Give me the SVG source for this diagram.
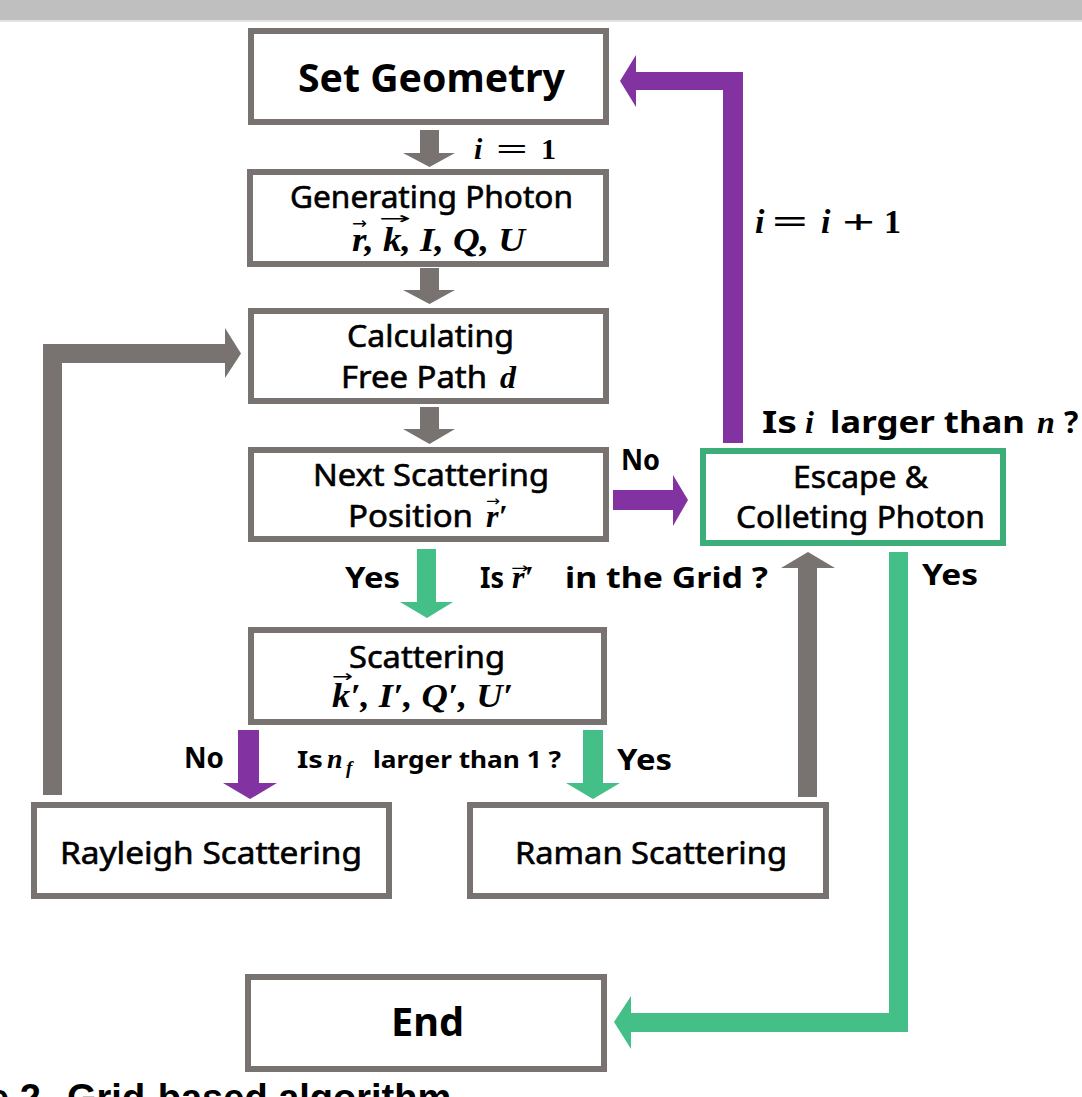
<svg xmlns="http://www.w3.org/2000/svg" width="1082" height="1097" viewBox="0 0 1082 1097">
<style>
.box{fill:#fff;stroke:#787371;stroke-width:6}
.gbox{fill:#fff;stroke:#3dae79;stroke-width:6}
.t{font-family:"Noto Sans","Open Sans",sans-serif;font-size:31px;fill:#000;stroke:#000;stroke-width:0.6}
.tb{font-family:"Noto Sans","Open Sans",sans-serif;font-size:40px;font-weight:700;fill:#000}
.m{font-family:"Liberation Serif","DejaVu Serif",serif;font-weight:700;font-style:italic;fill:#000}
.mu{font-family:"Liberation Serif","DejaVu Serif",serif;font-weight:700;fill:#000}
.ar{font-family:"DejaVu Sans",sans-serif;fill:#000}
.lb{font-family:"Noto Sans","Open Sans",sans-serif;font-size:28px;font-weight:700;fill:#000}
.q{font-family:"Noto Sans","Open Sans",sans-serif;font-weight:700;fill:#000}
.gray{fill:#787371}
.purple{fill:#8332a1}
.green{fill:#43bf87}
</style>
<rect x="0" y="0" width="1082" height="20" fill="#bfbfbf"/>
<rect x="0" y="20" width="1082" height="2" fill="#e3e3e3"/>

<g id="connectors">
<polygon class="gray" points="420,130 439,130 439,153 455,153 429.5,167 403,153 420,153"/>
<polygon class="gray" points="420,268 439,268 439,290 455,290 429.5,304 403,290 420,290"/>
<polygon class="gray" points="420,407 439,407 439,429 455,429 429.5,444 403,429 420,429"/>
<polygon class="green" points="417,549 436,549 436,602 453,602 427,618 400,602 417,602"/>
<polygon class="purple" points="238,730 259,730 259,783 277,783 250,799 223,783 238,783"/>
<polygon class="green" points="583,730 603,730 603,783 620,783 593,799 566,783 583,783"/>
<polygon class="gray" points="43,795 43,344 225,344 225,328 241,353.5 225,378 225,363 62,363 62,795"/>
<polygon class="gray" points="798,797 798,568 781,568 808,552 835,568 817,568 817,797"/>
<polygon class="purple" points="613,490 673,490 673,475 688,500 673,526 673,510 613,510"/>
<polygon class="purple" points="723,443 723,90 636,90 636,107 620,81 636,55 636,72 743,72 743,443"/>
<polygon class="green" points="889,552 908,552 908,1032 631,1032 631,1049 614,1022 631,996 631,1013 889,1013"/>
</g>

<g id="set-geometry">
<rect class="box" x="251" y="31" width="355" height="91"/>
<text class="tb" x="298" y="92" textLength="267" lengthAdjust="spacingAndGlyphs">Set Geometry</text>
</g>

<g id="generating-photon">
<rect class="box" x="250" y="172" width="356" height="92"/>
<text class="t" x="290" y="208" textLength="283" lengthAdjust="spacingAndGlyphs">Generating Photon</text>
<text class="m" x="352" y="251" font-size="34" textLength="173" lengthAdjust="spacingAndGlyphs">r, k, I, Q, U</text>
<text class="ar" x="352" y="229" font-size="17" textLength="15" lengthAdjust="spacingAndGlyphs">→</text>
<text class="ar" x="379" y="224" font-size="17" textLength="32" lengthAdjust="spacingAndGlyphs">→</text>
</g>

<g id="calculating">
<rect class="box" x="251" y="311" width="355" height="90"/>
<text class="t" x="347" y="347" textLength="167" lengthAdjust="spacingAndGlyphs">Calculating</text>
<text class="t" x="341" y="388" textLength="146" lengthAdjust="spacingAndGlyphs">Free Path</text>
<text class="m" x="500" y="388" font-size="32">d</text>
</g>

<g id="next-scattering">
<rect class="box" x="251" y="450" width="355" height="89"/>
<text class="t" x="313" y="486" textLength="236" lengthAdjust="spacingAndGlyphs">Next Scattering</text>
<text class="t" x="348" y="527" textLength="125" lengthAdjust="spacingAndGlyphs">Position</text>
<text class="m" x="486" y="527" font-size="32">r′</text>
<text class="ar" x="486" y="506" font-size="15" textLength="14" lengthAdjust="spacingAndGlyphs">→</text>
</g>

<g id="escape">
<rect class="gbox" x="703" y="451" width="300" height="92"/>
<text class="t" x="793" y="488" textLength="135" lengthAdjust="spacingAndGlyphs">Escape &amp;</text>
<text class="t" x="736" y="528" textLength="249" lengthAdjust="spacingAndGlyphs">Colleting Photon</text>
</g>

<g id="scattering">
<rect class="box" x="251" y="630" width="353" height="92"/>
<text class="t" x="349" y="668" textLength="156" lengthAdjust="spacingAndGlyphs">Scattering</text>
<text class="m" x="332" y="707" font-size="34" textLength="181" lengthAdjust="spacingAndGlyphs">k′, I′, Q′, U′</text>
<text class="ar" x="332" y="682" font-size="17" textLength="21" lengthAdjust="spacingAndGlyphs">→</text>
</g>

<g id="rayleigh">
<rect class="box" x="34" y="805" width="355" height="91"/>
<text class="t" x="60" y="864" textLength="302" lengthAdjust="spacingAndGlyphs">Rayleigh Scattering</text>
</g>

<g id="raman">
<rect class="box" x="470" y="805" width="356" height="91"/>
<text class="t" x="515" y="864" textLength="272" lengthAdjust="spacingAndGlyphs">Raman Scattering</text>
</g>

<g id="end">
<rect class="box" x="248" y="977" width="356" height="92"/>
<text class="tb" x="391" y="1036" textLength="73" lengthAdjust="spacingAndGlyphs">End</text>
</g>

<g id="labels">
<text class="m" x="474" y="159" font-size="30">i</text>
<text class="mu" x="496" y="159" font-size="30" textLength="32" lengthAdjust="spacingAndGlyphs">=</text>
<text class="mu" x="541" y="159" font-size="30">1</text>

<text class="m" x="755" y="233" font-size="34">i</text>
<text class="mu" x="772" y="233" font-size="34" textLength="36" lengthAdjust="spacingAndGlyphs">=</text>
<text class="m" x="821" y="233" font-size="34">i</text>
<text class="mu" x="842" y="233" font-size="34" textLength="33" lengthAdjust="spacingAndGlyphs">+</text>
<text class="mu" x="884" y="233" font-size="34">1</text>

<text class="q" x="762" y="433" font-size="30" textLength="35" lengthAdjust="spacingAndGlyphs">Is</text>
<text class="m" x="805" y="433" font-size="32">i</text>
<text class="q" x="830" y="433" font-size="30" textLength="195" lengthAdjust="spacingAndGlyphs">larger than</text>
<text class="m" x="1037" y="433" font-size="32">n</text>
<text class="q" x="1064" y="433" font-size="30">?</text>

<text class="lb" x="621" y="470" textLength="39" lengthAdjust="spacingAndGlyphs">No</text>
<text class="lb" x="345" y="588" textLength="55" lengthAdjust="spacingAndGlyphs">Yes</text>

<text class="q" x="480" y="588" font-size="28" textLength="24" lengthAdjust="spacingAndGlyphs">Is</text>
<text class="m" x="512" y="588" font-size="32">r′</text>
<text class="ar" x="511" y="573" font-size="15" textLength="18" lengthAdjust="spacingAndGlyphs">→</text>
<text class="q" x="565" y="588" font-size="28" textLength="203" lengthAdjust="spacingAndGlyphs">in the Grid ?</text>

<text class="lb" x="922" y="585" textLength="56" lengthAdjust="spacingAndGlyphs">Yes</text>

<text class="lb" x="184" y="768" textLength="40" lengthAdjust="spacingAndGlyphs">No</text>
<text class="q" x="297" y="768" font-size="23" textLength="26" lengthAdjust="spacingAndGlyphs">Is</text>
<text class="m" x="327" y="768" font-size="28">n</text>
<text class="m" x="346" y="774" font-size="19">f</text>
<text class="q" x="373" y="768" font-size="23" textLength="188" lengthAdjust="spacingAndGlyphs">larger than 1 ?</text>
<text class="lb" x="617" y="770" textLength="55" lengthAdjust="spacingAndGlyphs">Yes</text>
</g>

<text font-family="Liberation Sans,Arial,sans-serif" font-size="38" font-weight="700" fill="#000" x="-12" y="1111">e 2.<tspan x="67">Grid-based algorithm</tspan></text>
</svg>
